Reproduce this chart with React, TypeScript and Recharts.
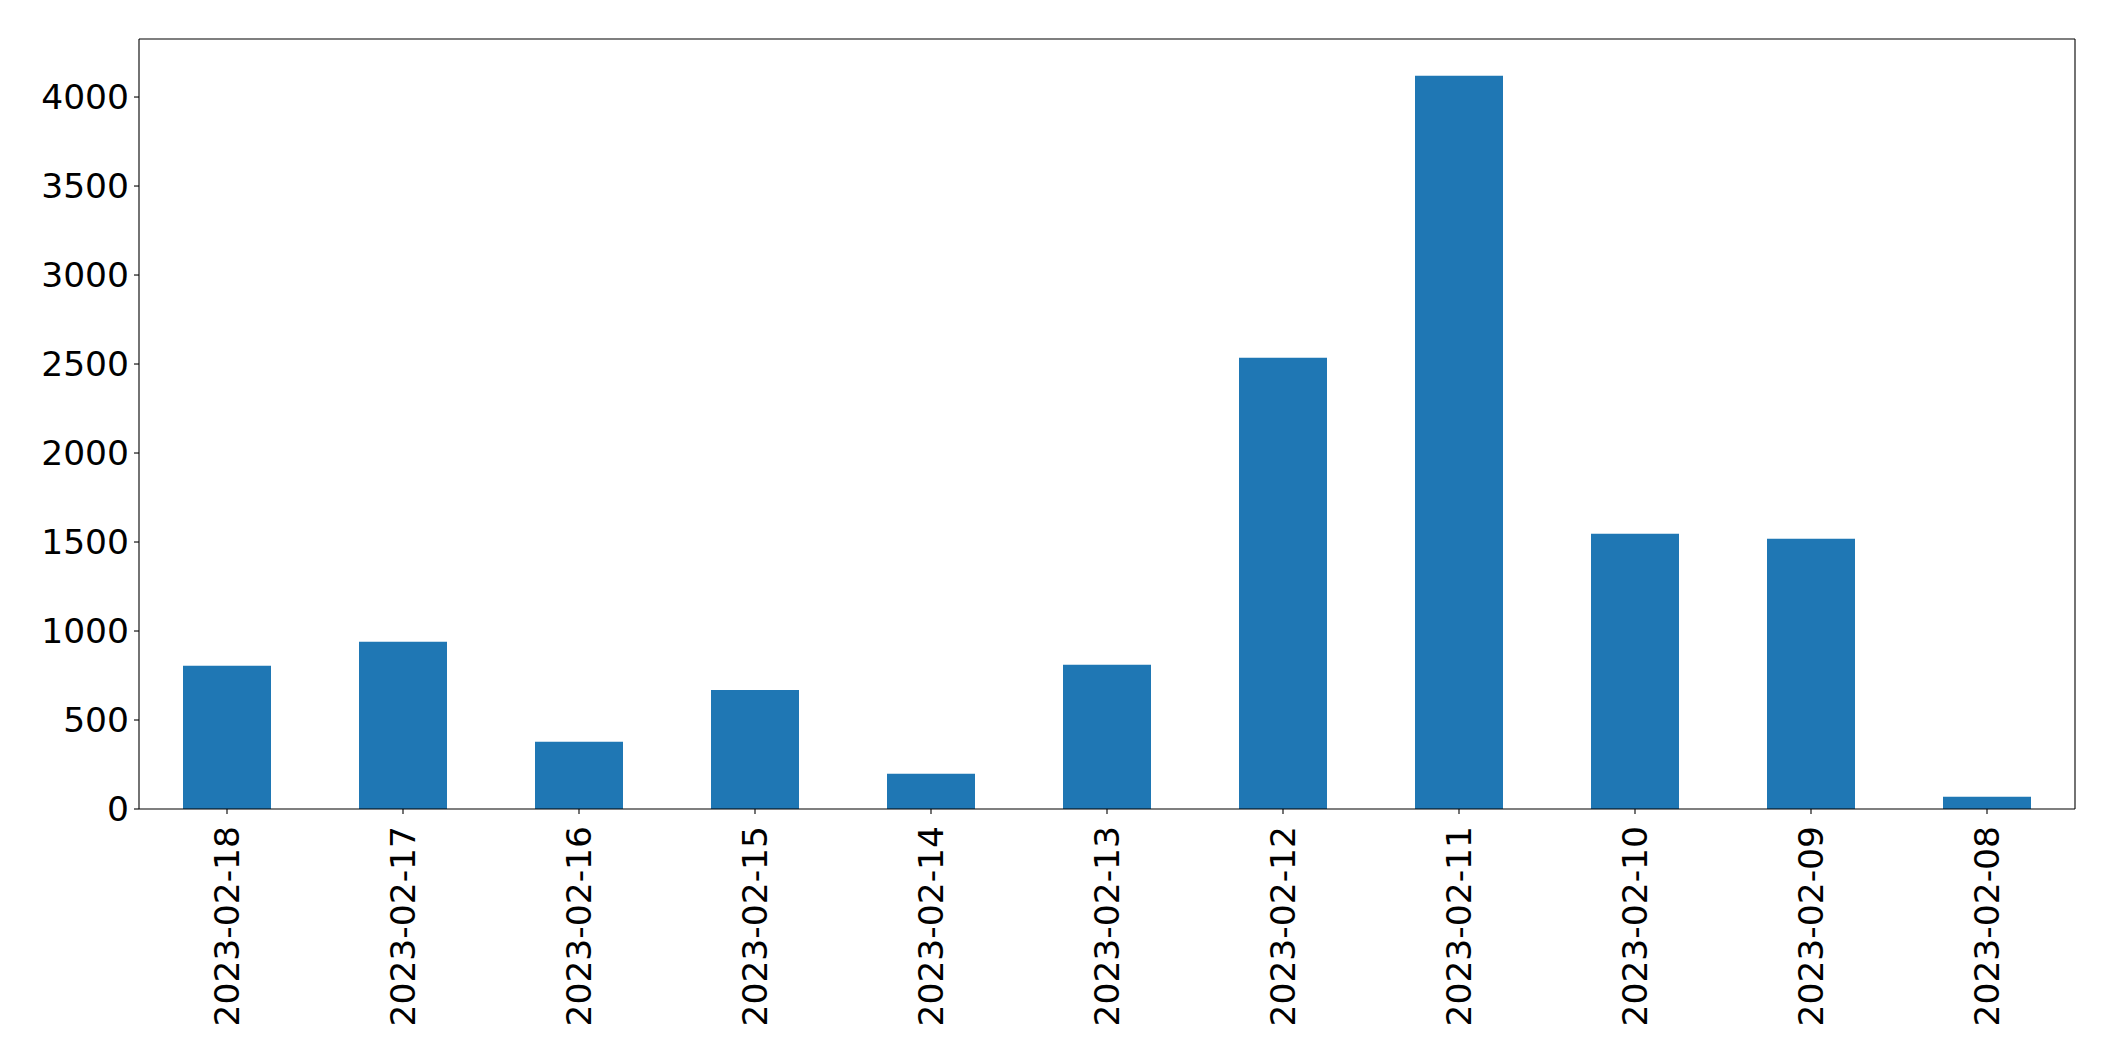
import React from 'react';
import { BarChart, Bar, XAxis, YAxis, CartesianGrid } from 'recharts';

const dates = [
  '2023-02-18', '2023-02-17', '2023-02-16', '2023-02-15', '2023-02-14', '2023-02-13',
  '2023-02-12', '2023-02-11', '2023-02-10', '2023-02-09', '2023-02-08',
];
const counts = [805, 940, 378, 668, 198, 811, 2535, 4120, 1547, 1518, 69];
const yTicks = [0, 500, 1000, 1500, 2000, 2500, 3000, 3500, 4000];

const data = dates.map((d, i) => ({ date: d, count: counts[i] }));
// matplotlib adds 5% headroom above the tallest bar
const yMax = Math.max(...counts) * 1.05;

const FONT = '"DejaVu Sans", sans-serif';
const TICK_FONT_SIZE = 34.5;

const DateTick = ({ x, y, payload }: any) => (
  <g transform={`translate(${x},${y})`}>
    <text
      transform="rotate(-90)"
      x={0}
      y={0}
      dy="0.36em"
      textAnchor="end"
      fill="#000"
      fontSize={TICK_FONT_SIZE}
      fontFamily={FONT}
    >
      {payload.value}
    </text>
  </g>
);

export default function App() {
  return (
    <div style={{ position: 'absolute', left: 0, top: 0, width: 2115, height: 1061, background: '#fff' }}>
      <BarChart
        width={2115}
        height={1061}
        data={data}
        margin={{ top: 39, right: 40, left: 0, bottom: 0 }}
        barCategoryGap="25%"
      >
        {/* top and right spines of the frame */}
        <CartesianGrid
          stroke="#000"
          strokeWidth={1.1}
          horizontalCoordinatesGenerator={({ offset }: any) => [offset.top]}
          verticalCoordinatesGenerator={({ offset }: any) => [offset.left + offset.width]}
        />
        <XAxis
          dataKey="date"
          type="category"
          height={252}
          interval={0}
          tick={<DateTick />}
          tickSize={5}
          tickMargin={12}
          tickLine={{ stroke: '#000', strokeWidth: 1.1 }}
          axisLine={{ stroke: '#000', strokeWidth: 1.1 }}
        />
        <YAxis
          type="number"
          width={139}
          domain={[0, yMax]}
          ticks={yTicks}
          interval={0}
          tickSize={5}
          tickMargin={5}
          tick={{ fill: '#000', fontSize: TICK_FONT_SIZE, fontFamily: FONT }}
          tickLine={{ stroke: '#000', strokeWidth: 1.1 }}
          axisLine={{ stroke: '#000', strokeWidth: 1.1 }}
        />
        <Bar dataKey="count" fill="#1f77b4" isAnimationActive={false} />
      </BarChart>
    </div>
  );
}
